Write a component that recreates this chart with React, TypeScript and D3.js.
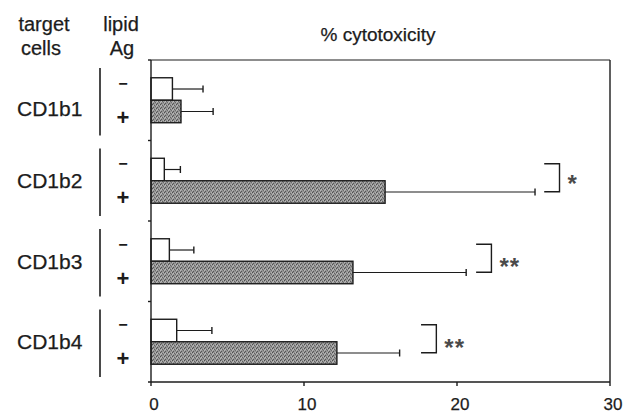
import React from "react";
import * as d3 from "d3";

// Target cell lines and lipid antigen conditions
const cells = ["CD1b1", "CD1b2", "CD1b3", "CD1b4"];
const conditions = ["neg", "pos"];
const conditionSigns = ["−", "+"];

// % cytotoxicity (mean) and standard deviation per condition
const withoutAg = [1.4, 0.87, 1.2, 1.68];
const withoutAgSD = [2.0, 1.05, 1.6, 2.3];
const withAg = [1.96, 15.3, 13.2, 12.15];
const withAgSD = [2.1, 9.8, 7.4, 4.1];

// Significance markers: bracket start (in % cytotoxicity) and star label
const bracketStart = [null, 25.7, 21.25, 17.65];
const bracketWidth = 1.0;
const significance = ["", "*", "**", "**"];

const xTicks = [0, 10, 20, 30];

const W = 637;
const H = 415;
const margin = { left: 151, right: 27, top: 60, bottom: 33 };
const FONT = "'Liberation Sans', Arial, Helvetica, sans-serif";
const INK = "#1c1c1c";

export default function App() {
  const x = d3.scaleLinear().domain([0, 30]).range([margin.left, W - margin.right]);
  const y = d3.scaleBand<string>().domain(cells).range([margin.top, H - margin.bottom]);
  const sub = d3
    .scaleBand<string>()
    .domain(conditions)
    .range([0, y.bandwidth()])
    .paddingInner(0)
    .paddingOuter(0.79);

  const rows = cells.map((c, i) => ({
    cell: c,
    bars: [
      { cond: "neg", value: withoutAg[i], sd: withoutAgSD[i] },
      { cond: "pos", value: withAg[i], sd: withAgSD[i] },
    ],
    bracket: bracketStart[i],
    sig: significance[i],
  }));

  const x0 = x(0);
  const yTop = margin.top;
  const yBot = H - margin.bottom;
  const xRight = x(30);
  const bh = sub.bandwidth();

  // slightly heavier lettering
  const textInk = { fill: INK, stroke: INK, strokeWidth: 0.25 };

  return (
    <svg
      width={W}
      height={H}
      viewBox={`0 0 ${W} ${H}`}
      style={{ position: "absolute", left: 0, top: 0, background: "#fff" }}
      fontFamily={FONT}
    >
      <defs>
        <pattern id="stipple" width={4} height={4} patternUnits="userSpaceOnUse">
          <rect width={4} height={4} fill="#949494" />
          <rect x={0} y={0} width={1} height={1} fill="#4e4e4e" />
          <rect x={2} y={1} width={1} height={1} fill="#636363" />
          <rect x={1} y={3} width={1} height={1} fill="#585858" />
          <rect x={3} y={2} width={1} height={1} fill="#6a6a6a" />
          <rect x={1} y={1} width={1} height={1} fill="#bdbdbd" />
          <rect x={3} y={0} width={1} height={1} fill="#b2b2b2" />
          <rect x={0} y={2} width={1} height={1} fill="#b8b8b8" />
        </pattern>
      </defs>

      {/* column headers */}
      <g fontSize={20} textAnchor="middle" {...textInk}>
        <text x={44} y={31}>target</text>
        <text x={41} y={55}>cells</text>
        <text x={121} y={31}>lipid</text>
        <text x={122} y={55}>Ag</text>
        <text x={378} y={41} fontSize={19}>% cytotoxicity</text>
      </g>

      {/* row labels, separators and +/- signs */}
      {rows.map((r, i) => {
        const g0 = y(r.cell)!;
        const gc = g0 + y.bandwidth() / 2;
        return (
          <g key={r.cell}>
            <text x={17} y={gc + (i === 0 ? 8 : 0)} dy="0.36em" fontSize={21} {...textInk}>
              {r.cell}
            </text>
            <line x1={100} x2={100} y1={g0 + 8} y2={g0 + y.bandwidth() - 5} stroke={INK} strokeWidth={1.6} />
            {conditions.map((c, j) => (
              <text
                key={c}
                x={123}
                y={gc + (j === 0 ? -17 : 17)}
                dy="0.35em"
                textAnchor="middle"
                fontWeight="bold"
                fontSize={j === 0 ? 16 : 22}
                fill={INK}
              >
                {conditionSigns[j]}
              </text>
            ))}
          </g>
        );
      })}

      {/* bars with upper error bars */}
      {rows.map((r) => {
        const g0 = y(r.cell)!;
        return (
          <g key={r.cell}>
            {r.bars.map((b) => {
              const by = g0 + sub(b.cond)!;
              const cy = by + bh / 2;
              const xe = x(b.value + b.sd);
              return (
                <g key={b.cond}>
                  <line x1={x(b.value)} x2={xe} y1={cy} y2={cy} stroke={INK} strokeWidth={1.2} />
                  <line x1={xe} x2={xe} y1={cy - 3.5} y2={cy + 3.5} stroke={INK} strokeWidth={1.4} />
                  <rect
                    x={x0}
                    y={by}
                    width={x(b.value) - x0}
                    height={bh}
                    fill={b.cond === "neg" ? "#fff" : "url(#stipple)"}
                    stroke={INK}
                    strokeWidth={1.4}
                  />
                </g>
              );
            })}
          </g>
        );
      })}

      {/* significance brackets */}
      {rows.map((r) => {
        if (r.bracket == null) return null;
        const gc = y(r.cell)! + y.bandwidth() / 2;
        const xa = x(r.bracket);
        const xb = x(r.bracket + bracketWidth);
        const ya = gc - 17;
        const yb = gc + 11;
        return (
          <g key={r.cell}>
            <path
              d={`M${xa},${ya}H${xb}V${yb}H${xa}`}
              fill="none"
              stroke={INK}
              strokeWidth={1.4}
            />
            <text
              x={xb + 8}
              y={gc - (r.sig.length === 1 ? 3 : 0) + 14}
              fontSize={24}
              fontWeight="bold"
              fill="#4a4a4a"
              letterSpacing={1}
            >
              {r.sig}
            </text>
          </g>
        );
      })}

      {/* frame and axes */}
      <g stroke={INK} strokeWidth={1.4} fill="none">
        <line x1={x0} x2={xRight} y1={yTop} y2={yTop} strokeWidth={1.1} />
        <line x1={xRight} x2={xRight} y1={yTop} y2={yBot} />
        <line x1={x0} x2={x0} y1={yTop} y2={yBot} />
        <line x1={x0 - 3} x2={xRight} y1={yBot} y2={yBot} />
        {y.domain().map((c) => (
          <line key={c} x1={x0 - 3} x2={x0} y1={y(c)!} y2={y(c)!} />
        ))}
        {xTicks.map((t) => (
          <line key={t} x1={x(t)} x2={x(t)} y1={yBot} y2={yBot + 4} />
        ))}
      </g>
      <g fontSize={17} textAnchor="middle" {...textInk}>
        {xTicks.map((t) => (
          <text key={t} x={x(t) + 3} y={410}>
            {t}
          </text>
        ))}
      </g>
    </svg>
  );
}
